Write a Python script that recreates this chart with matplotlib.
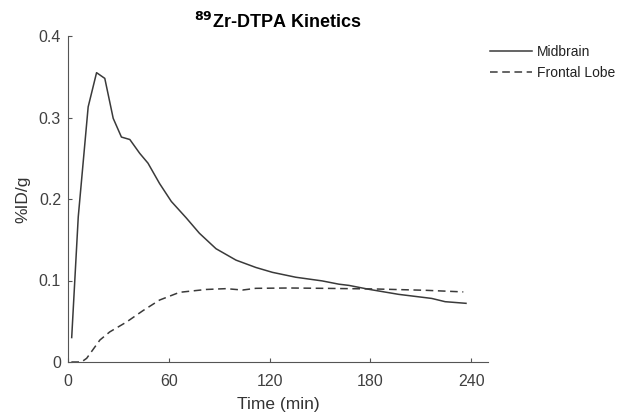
import matplotlib
matplotlib.use("Agg")
import matplotlib.pyplot as plt
from matplotlib.ticker import FuncFormatter

plt.rcParams['font.family'] = ['Liberation Sans', 'DejaVu Sans']

# Midbrain
mid_t = [2.2, 6.1, 12.0, 17.0, 21.9, 26.9, 31.8, 36.8, 42.7, 47.6, 54.5, 61.5, 70.3,
         78.2, 88.1, 100.0, 111.8, 121.7, 135.6, 151.3, 161.2, 167.2, 179.6, 196.8,
         216.5, 224.5, 236.9]
mid_v = [0.030, 0.178, 0.313, 0.355, 0.348, 0.299, 0.276, 0.273, 0.256, 0.244, 0.219, 0.197, 0.177,
         0.158, 0.139, 0.125, 0.116, 0.110, 0.104, 0.0995, 0.0955, 0.094, 0.089, 0.083,
         0.078, 0.074, 0.072]

# Frontal Lobe
fl_t = [2.0, 8.0, 11.1, 19.0, 24.9, 34.8, 44.6, 54.5, 66.4, 82.2, 94.1, 103.9, 111.8,
        131.6, 151.3, 183.0, 212.6, 235.3]
fl_v = [0.0, 0.0, 0.0045, 0.027, 0.037, 0.049, 0.063, 0.076, 0.0855, 0.089, 0.090, 0.0883, 0.0904,
        0.0908, 0.0904, 0.0896, 0.088, 0.086]

xticks = [0, 60, 120, 180, 240]
yticks = [0, 0.1, 0.2, 0.3, 0.4]

fig = plt.figure(figsize=(6.2, 4.17), dpi=100)
ax = fig.add_axes([68/620, 1-362/417, (488-68)/620, (362-36)/417])

lc = '#3a3a3a'
ax.plot(mid_t, mid_v, color=lc, lw=1.1, label='Midbrain')
ax.plot(fl_t, fl_v, color=lc, lw=1.1, ls=(0, (5, 3)), label='Frontal Lobe')

ax.set_xlim(0, 250)
ax.set_ylim(0, 0.4)
ax.set_xticks(xticks)
ax.set_yticks(yticks)
ax.yaxis.set_major_formatter(FuncFormatter(lambda v, p: '0' if v == 0 else f'{v:.1f}'))
ax.spines['top'].set_visible(False)
ax.spines['right'].set_visible(False)
for s in ['left', 'bottom']:
    ax.spines[s].set_color('#555555')
    ax.spines[s].set_linewidth(0.8)
ax.tick_params(direction='in', length=3, width=0.8, colors='#555555',
               labelcolor='#404040', labelsize=11.5)
ax.tick_params(axis='x', pad=8.5)
ax.tick_params(axis='y', pad=5)

ax.set_xlabel('Time (min)', fontsize=12.5, color='#333333', labelpad=6)
ax.set_ylabel('%ID/g', fontsize=12.5, color='#333333', labelpad=6)
ax.set_title(r'$\mathbf{^{89}}$Zr-DTPA Kinetics', fontsize=13, fontweight='bold', pad=6)

leg = fig.legend(loc='upper left', bbox_to_anchor=(490/620, 1-45/417), frameon=False,
                 fontsize=10, handlelength=3.0, handletextpad=0.35, labelspacing=0.5,
                 borderaxespad=0, borderpad=0)
for t in leg.get_texts():
    t.set_color('#222222')

fig.savefig('out.png', dpi=100)
